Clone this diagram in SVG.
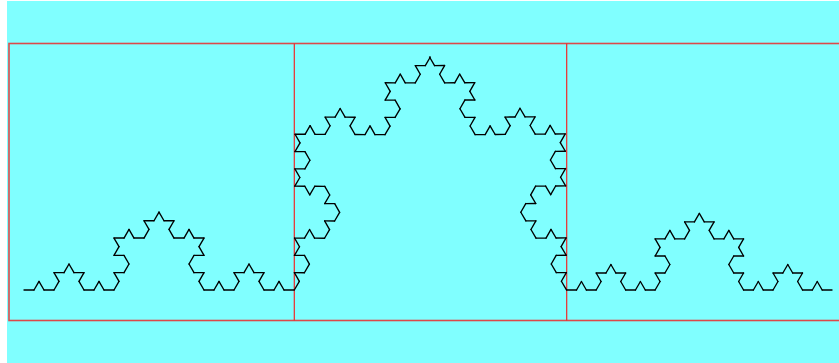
<svg xmlns="http://www.w3.org/2000/svg" xmlns:xlink="http://www.w3.org/1999/xlink" width="839" height="363" viewBox="0 0 839 363">
<style>
.koch{fill:none;stroke:#000000;stroke-width:1.35;stroke-linecap:round;stroke-linejoin:round}
.frame{fill:none;stroke:#dc4a4a;stroke-width:1.6}
.divider{stroke:#f02828;stroke-width:1.2}
</style>
<defs>
<path id="k0" d="M0 0H10"/>
<g id="k1">
<use xlink:href="#k0"/>
<use xlink:href="#k0" transform="translate(10,0) rotate(-60)"/>
<use xlink:href="#k0" transform="translate(15,-8.660254) rotate(60)"/>
<use xlink:href="#k0" transform="translate(20,0)"/>
</g>
<g id="k2">
<use xlink:href="#k1"/>
<use xlink:href="#k1" transform="translate(30,0) rotate(-60)"/>
<use xlink:href="#k1" transform="translate(45,-25.980762) rotate(60)"/>
<use xlink:href="#k1" transform="translate(60,0)"/>
</g>
<g id="k3">
<use xlink:href="#k2"/>
<use xlink:href="#k2" transform="translate(90,0) rotate(-60)"/>
<use xlink:href="#k2" transform="translate(135,-77.942286) rotate(60)"/>
<use xlink:href="#k2" transform="translate(180,0)"/>
</g>
</defs>
<rect x="0" y="0" width="839" height="363" fill="#ffffff"/>
<rect x="7" y="1" width="832" height="362" fill="#80ffff"/>
<g id="frames">
<rect class="frame" x="9" y="43.5" width="840" height="277"/>
<line class="divider" x1="294.3" y1="43.5" x2="294.3" y2="320.5"/>
<line class="divider" x1="566.7" y1="43.5" x2="566.7" y2="320.5"/>
</g>
<g id="koch-curve" class="koch">
<use xlink:href="#k3" transform="translate(24,290)"/>
<use xlink:href="#k3" transform="translate(294.3,290) rotate(-59.72) scale(0.99918)"/>
<use xlink:href="#k3" transform="translate(429.5,57) rotate(59.54) scale(1.00071)"/>
<use xlink:href="#k3" transform="translate(566.7,290) scale(0.98259)"/>
</g>
</svg>
